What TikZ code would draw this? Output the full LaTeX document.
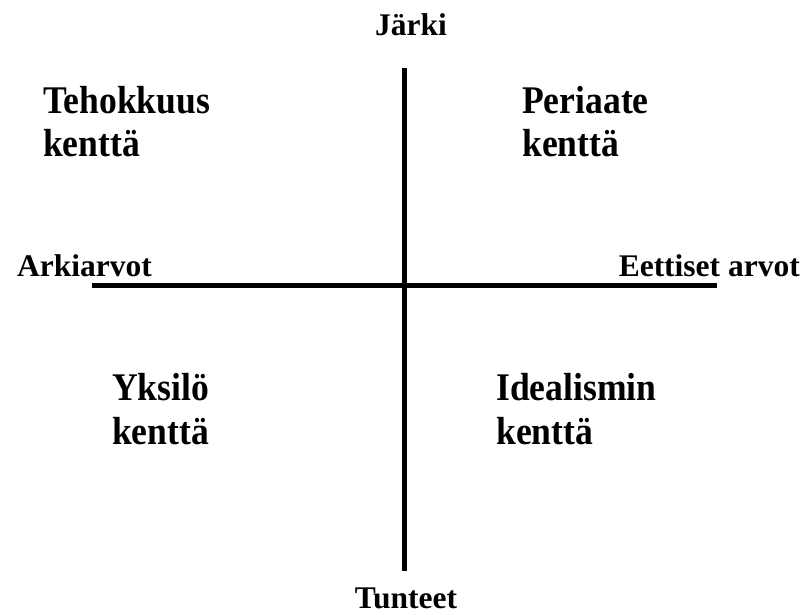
\documentclass[tikz,border=0pt]{standalone}
\usepackage{fontspec}
\usepackage{graphicx}
\setmainfont{Liberation Serif}
\newcommand\tallbox[1]{\scalebox{1}[1.1]{#1}}
\begin{document}
\begin{tikzpicture}[x=1pt,y=-1pt,
  axis/.style={line width=5pt},
  big/.style={inner sep=0pt,anchor=base west,font=\fontsize{35.6}{43}\selectfont\bfseries},
  small/.style={inner sep=0pt,font=\fontsize{31.5}{37}\selectfont\bfseries}]
\useasboundingbox (0,0) rectangle (802,614);
\coordinate (vtop) at (404,68);
\coordinate (vbot) at (404,571);
\coordinate (hl) at (92,285);
\coordinate (hr) at (717,285);
\draw[axis] (vtop) -- (vbot);
\draw[axis] (hl) -- (hr);
\node[small,anchor=base] (jarki) at (411,35) {Järki};
\node[small,anchor=base] (tunteet) at (406,608) {Tunteet};
\node[small,anchor=base west] (arki) at (17,276) {Arkiarvot};
\node[small,anchor=base east] (eett) at (800,276) {Eettiset arvot};
\node[big] (teho1) at (43,113) {\tallbox{Tehokkuus}};
\node[big] (teho2) at (43,156) {\tallbox{kenttä}};
\node[big] (peri1) at (522,113) {\tallbox{Periaate}};
\node[big] (peri2) at (522,156) {\tallbox{kenttä}};
\node[big] (yks1) at (112,400) {\tallbox{Yksilö}};
\node[big] (yks2) at (112,444) {\tallbox{kenttä}};
\node[big] (ide1) at (496,400) {\tallbox{Idealismin}};
\node[big] (ide2) at (496,444) {\tallbox{kenttä}};
\end{tikzpicture}
\end{document}
